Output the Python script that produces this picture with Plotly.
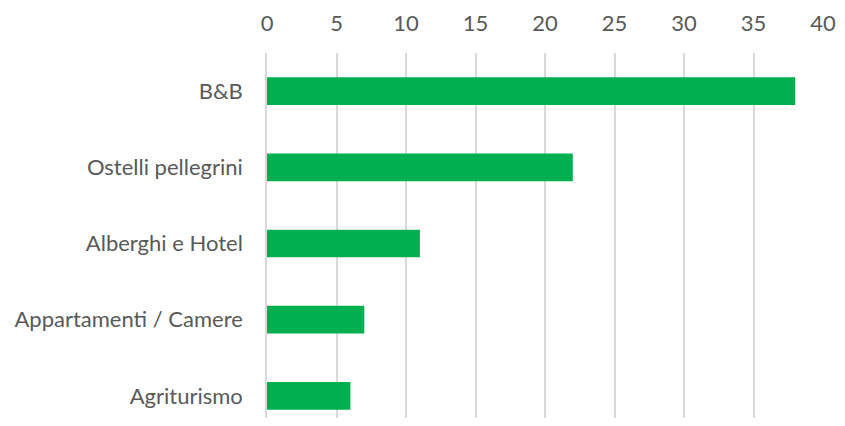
import plotly.graph_objects as go

categories = ["Agriturismo", "Appartamenti / Camere", "Alberghi e Hotel", "Ostelli pellegrini", "B&B"]
values = [6, 7, 11, 22, 38]
x_ticks = [0, 5, 10, 15, 20, 25, 30, 35, 40]

fig = go.Figure(go.Bar(
    y=categories, x=values, orientation="h",
    marker=dict(color="#00B050", line=dict(width=0)),
    width=0.364,
))

fig.update_layout(
    width=837, height=410,
    margin=dict(l=259, r=22, t=45, b=0),
    paper_bgcolor="white", plot_bgcolor="white",
    font=dict(family="Lato", color="#595959", size=22),
    showlegend=False,
    xaxis=dict(
        side="top", range=[0, 40], tickvals=x_ticks, automargin=False,
        showgrid=True, gridcolor="#D9D9D9", gridwidth=1.5,
        zeroline=False, showline=False, ticks="", ticklabelstandoff=17,
        ticklabeloverflow="allow",
        tickfont=dict(size=22, color="#595959"),
    ),
    yaxis=dict(
        range=[-0.29, 4.5], showgrid=False, zeroline=False, automargin=False,
        showline=True, linecolor="#D9D9D9", linewidth=1.5,
        ticks="", ticklabelstandoff=18,
        tickfont=dict(size=22, color="#595959"),
    ),
)

fig.write_html("out.html")
